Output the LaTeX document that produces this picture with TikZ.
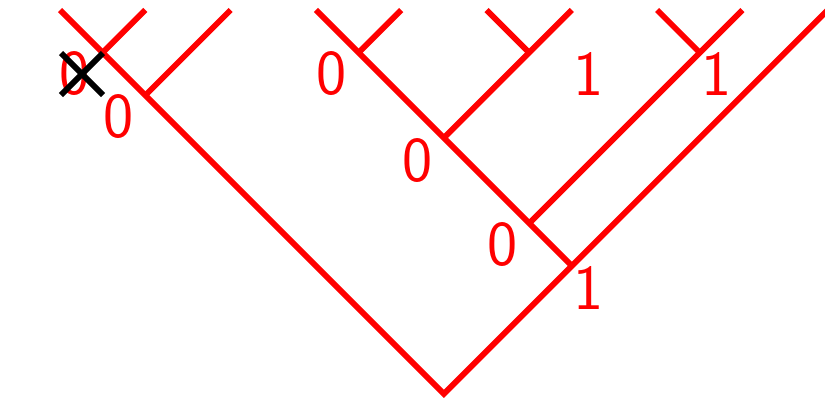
\documentclass[tikz,border=0pt]{standalone}
\begin{document}
\begin{tikzpicture}[x=0.5pt,y=-0.5pt,
  edge/.style={draw=red, line width=2.9pt},
  cross/.style={draw=black, line width=2.9pt},
  lab/.style={text=red, font=\fontsize{32}{38}\selectfont\sffamily, inner sep=0pt}]
\useasboundingbox (0,0) rectangle (825,397);
\clip (0,0) rectangle (825,397);
\begin{scope}[shift={(60,10)}, x=21.325pt, y=-21.325pt]
  % left tree
  \coordinate (a0) at (0,0);
  \coordinate (a1) at (1,1);
  \coordinate (a1r) at (2,0);
  \coordinate (a2) at (2,2);
  \coordinate (a2r) at (4,0);
  \coordinate (root) at (9,9);
  % right tree
  \coordinate (top) at (18,0);
  \coordinate (b6) at (12,6);
  \coordinate (b5) at (11,5);
  \coordinate (b3) at (9,3);
  \coordinate (b1) at (7,1);
  \coordinate (b0) at (6,0);
  \coordinate (b1r) at (8,0);
  \coordinate (c1) at (11,1);
  \coordinate (c0) at (12,0);
  \coordinate (c1l) at (10,0);
  \coordinate (d1) at (15,1);
  \coordinate (d0) at (16,0);
  \coordinate (d1l) at (14,0);
\end{scope}
\draw[edge] (a0) -- (root) -- (top);
\draw[edge] (a1) -- (a1r);
\draw[edge] (a2) -- (a2r);
\draw[edge] (b6) -- (b0);
\draw[edge] (b1) -- (b1r);
\draw[edge] (b3) -- (c1) -- (c0);
\draw[edge] (c1) -- (c1l);
\draw[edge] (b5) -- (d1) -- (d0);
\draw[edge] (d1) -- (d1l);
% labels
\node[lab] (l1) at (75,74) {0};
\node[lab] (l2) at (119,117) {0};
\node[lab] (l3) at (332,74) {0};
\node[lab] (l4) at (418,161) {0};
\node[lab] (l5) at (589,74) {1};
\node[lab] (l6) at (717,74) {1};
\node[lab] (l7) at (503,245) {0};
\node[lab] (l8) at (589,288) {1};
% cross
\coordinate (x1) at (61,53);
\coordinate (x2) at (103,95);
\coordinate (x3) at (61,95);
\coordinate (x4) at (103,53);
\draw[cross] (x1) -- (x2);
\draw[cross] (x3) -- (x4);
\end{tikzpicture}
\end{document}
